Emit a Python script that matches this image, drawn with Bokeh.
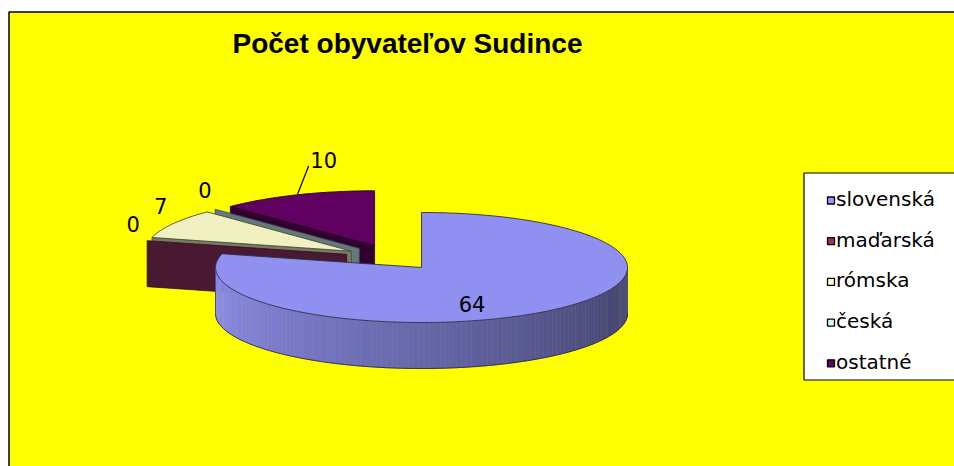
import numpy as np
from bokeh.plotting import figure
from bokeh.models import Range1d, ColumnDataSource
from bokeh.embed import file_html
from bokeh.resources import INLINE
from bokeh.core.properties import value

# ---------------- data ----------------
title_text = "Počet obyvateľov Sudince"
categories = ["slovenská", "maďarská", "rómska", "česká", "ostatné"]
values = [64, 0, 7, 0, 10]

# ---------------- styles ----------------
series_colors = ["#9999FF", "#993366", "#FFFFCC", "#CCFFFF", "#660066"]
leader = [False, False, False, False, True]
FONT = "Liberation Sans"
FONT2 = "DejaVu Sans"

W, H = 954, 466

# pie geometry (pixels)
PCX, PCY = 392.0, 257.0   # pie centre before explosion
A, B = 206.0, 55.0        # ellipse semi axes of top face
DEPTH = 46.0              # height of pie side
EXPL = 0.23               # explosion (fraction of radius)


def shade(hexcol, f):
    h = hexcol.lstrip("#")
    r, g, b = (int(h[i:i + 2], 16) for i in (0, 2, 4))
    r, g, b = (max(0, min(255, int(round(c * f)))) for c in (r, g, b))
    return "#%02x%02x%02x" % (r, g, b)


def rim(cx, cy, th, r=1.0):
    t = np.radians(th)
    return cx + r * A * np.sin(t), cy - r * B * np.cos(t)


total = float(sum(values))
cum = np.concatenate([[0.0], np.cumsum(values)]) / total * 360.0
starts, ends = cum[:-1], cum[1:]
mids = (starts + ends) / 2.0
centers = []
for m in mids:
    dx, dy = rim(0.0, 0.0, m, EXPL)
    centers.append((PCX + dx, PCY + dy))

p = figure(width=W, height=H, x_range=Range1d(0, W), y_range=Range1d(H, 0),
           output_backend="svg", toolbar_location=None, min_border=0,
           x_axis_type=None, y_axis_type=None)
p.grid.visible = False
p.outline_line_color = None
p.background_fill_color = "white"
p.border_fill_color = "white"

# chart area (yellow with black border, right/bottom cut off by window)
p.quad(left=[8.5], right=[1000], top=[11.5], bottom=[520], fill_color="#FFFF00",
       line_color="black", line_width=1.5)

pxs, pys, pfill, pline, plw = [], [], [], [], []


def add(xs, ys, fill, line, lw):
    pxs.append(list(xs)); pys.append(list(ys)); pfill.append(fill); pline.append(line); plw.append(lw)


def side_factor(th):
    # lighting of the curved side: light at left (270), dark at right (~110)
    if th >= 110:
        return 0.46 + (0.94 - 0.46) * (th - 110) / 160.0
    return 0.46 + (110 - th) / 20.0 * 0.06


outline_xs, outline_ys, outline_cols = [], [], []

order = sorted(range(len(values)), key=lambda i: centers[i][1])
for i in order:
    cx, cy = centers[i]
    t1, t2 = starts[i], ends[i]
    col = series_colors[i]
    face_col = shade(col, 0.48)
    edge_col = shade(col, 0.3)

    def face(th):
        rx, ry = rim(cx, cy, th)
        add([cx, rx, rx, cx], [cy, ry, ry + DEPTH, cy + DEPTH], face_col, edge_col, 0.8)

    if values[i] == 0:
        face(t1)
        continue
    if np.sin(np.radians(t1)) < -1e-9:
        face(t1)
    if np.sin(np.radians(t2)) > 1e-9:
        face(t2)
    lo, hi = max(t1, 90.0), min(t2, 270.0)
    if hi > lo:
        n = int((hi - lo) / 1.5) + 1
        ths = np.linspace(lo, hi, n + 1)
        for k in range(n):
            ta, tb = ths[k], ths[k + 1]
            xa, ya = rim(cx, cy, ta)
            xb, yb = rim(cx, cy, tb)
            c = shade(col, side_factor((ta + tb) / 2))
            add([xa, xb, xb, xa], [ya, yb, yb + DEPTH, ya + DEPTH], c, c, 0.6)
        arc = np.linspace(lo, hi, 120)
        bx, by = rim(cx, cy, arc)
        lx1, ly1 = rim(cx, cy, hi)
        outline_xs.append(list(bx)); outline_ys.append(list(by + DEPTH)); outline_cols.append(shade(col, 0.3))
        outline_xs.append([lx1, lx1]); outline_ys.append([ly1, ly1 + DEPTH]); outline_cols.append(shade(col, 0.45))
    arc = np.linspace(t1, t2, max(3, int((t2 - t1) / 1.5) + 2))
    ax, ay = rim(cx, cy, arc)
    add([cx] + list(ax), [cy] + list(ay), shade(col, 0.94), shade(col, 0.3), 0.9)

src = ColumnDataSource(dict(xs=pxs, ys=pys, fill=pfill, line=pline, lw=plw))
p.patches("xs", "ys", source=src, fill_color="fill", line_color="line", line_width="lw")
if outline_xs:
    p.multi_line(outline_xs, outline_ys, line_color=outline_cols, line_width=0.9)

# data labels
lab_x, lab_y, lab_t = [], [], []
lead_xs, lead_ys = [], []
for i in range(len(values)):
    cx, cy = centers[i]
    frac = values[i] / total
    if frac > 0.5:
        x, y = rim(cx, cy, mids[i], 0.4)
        lab_x.append(x); lab_y.append(y + 19)
    elif leader[i]:
        rx, ry = rim(cx, cy, mids[i], 1.0)
        lx, ly = rx + 27, ry - 35
        lab_x.append(lx); lab_y.append(ly)
        lead_xs.append([rx + 1, lx - 15]); lead_ys.append([ry - 1, ly + 6])
    else:
        x, y = rim(cx, cy, mids[i], 1.07)
        lab_x.append(x); lab_y.append(y - 16)
    lab_t.append(str(values[i]))
p.text(x=lab_x, y=lab_y, text=lab_t, text_font=value(FONT2), text_font_size="21px",
       text_align="center", text_baseline="alphabetic", text_color="black")
if lead_xs:
    p.multi_line(lead_xs, lead_ys, line_color="black", line_width=1.3)

# title
p.text(x=[407], y=[42.5], text=[title_text], text_font=value(FONT), text_font_size="28px",
       text_font_style="bold", text_align="center", text_baseline="alphabetic", text_color="black")

# legend box
LEG_L, LEG_T, LEG_B = 803.5, 172.5, 379.5
p.quad(left=[LEG_L], right=[1000], top=[LEG_T], bottom=[LEG_B], fill_color="white",
       line_color="black", line_width=1.2)
base0, step = 198.5, 40.7
ly = [base0 + step * k for k in range(len(categories))]
MS = 7.0
p.quad(left=[827.0] * len(categories), right=[827.0 + MS] * len(categories),
       top=[y + 1.5 - MS / 2 for y in ly], bottom=[y + 1.5 + MS / 2 for y in ly],
       fill_color=series_colors, line_color="black", line_width=1.3)
p.text(x=[835.5] * len(categories), y=ly, text=categories, text_font=value(FONT2),
       text_font_size="20px", text_align="left", text_baseline="alphabetic", text_color="black")

open("out.html", "w").write(file_html(p, INLINE))
